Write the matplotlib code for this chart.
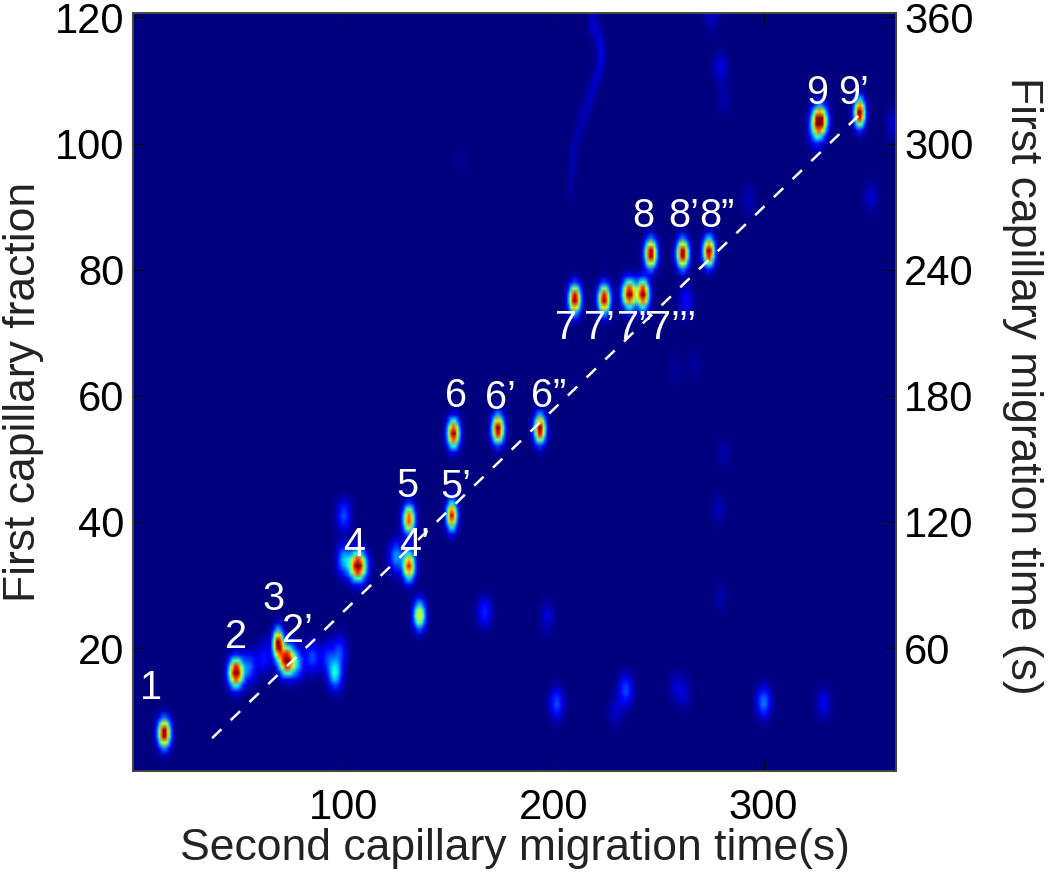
import numpy as np
import matplotlib
matplotlib.use('Agg')
import matplotlib.pyplot as plt

plt.rcParams['font.family'] = ['Liberation Sans', 'DejaVu Sans']

# peaks: migration time, fraction, height
main_x = [14.4, 48.6, 68.7, 72.9, 106.7, 131, 131, 151.4, 152.2, 173.4, 193.4,
          210, 224, 236, 242.5, 246.2, 261.4, 273.9, 326.7, 345.7, 136]
main_y = [6.5, 16.1, 20.7, 18, 33, 33, 40.4, 41, 54, 54.7, 54.7,
          75.3, 75.3, 76.1, 76.1, 82.5, 82.5, 82.8, 103.6, 104.8, 25.2]
main_h = [1.05, 1.1, 1.05, 1.1, 1.1, 0.9, 0.88, 0.95, 1.05, 1.05, 1.05,
          1.05, 1.02, 1.05, 1.05, 1.05, 1.05, 1.05, 1.12, 1.08, 0.66]
main_w = [2.0, 2.3, 1.7, 2.5, 2.6, 1.9, 1.9, 1.7, 1.9, 1.9, 1.8,
          1.9, 1.9, 2.2, 1.9, 1.9, 1.9, 1.8, 2.3, 1.7, 1.9]

minor_x = [95.8, 98, 100, 100, 125, 55, 62, 85, 92, 78, 201.4, 234.3, 229.5, 258, 262,
           300, 328.6, 167, 197, 279.5, 263, 281, 278.6, 267, 258, 275, 279.5,
           281, 351, 293, 362, 155.7, 325]
minor_y = [16, 19.6, 41, 34, 34.5, 17, 18.5, 18.5, 18.5, 17.5, 11.2, 13.3, 10, 14, 12.8,
           11.4, 11.2, 25.7, 25, 28, 75, 51, 42, 65, 64, 120, 112,
           107, 91.5, 91, 103, 97, 102]
minor_h = [0.38, 0.18, 0.2, 0.3, 0.28, 0.22, 0.15, 0.2, 0.16, 0.22, 0.2, 0.2, 0.07, 0.06, 0.07,
           0.25, 0.1, 0.16, 0.08, 0.04, 0.12, 0.04, 0.05, 0.03, 0.03, 0.06, 0.09,
           0.04, 0.07, 0.05, 0.08, 0.02, 0.25]

# faint ridge near the top
ridge_x = [218, 220, 222, 223, 222, 220, 218, 216, 214, 212, 210, 209, 209, 208, 208]
ridge_y = [119, 118, 116, 114, 112, 110, 108, 106, 104, 102, 100, 98, 96, 94, 92]
ridge_h = [0.055, 0.055, 0.06, 0.055, 0.055, 0.055, 0.05, 0.045, 0.04, 0.035, 0.03, 0.03, 0.025, 0.02, 0.015]

line_x = [37.6, 345.7]
line_y = [5.7, 104.6]

label_text = ['1', '2', '3', '2’', '4', '4’', '5', '5’', '6', '6’', '6”',
              '7', '7’', '7”', '7’’’', '8', '8’', '8”', '9', '9’']
label_x = [8.6, 49, 67, 78, 105, 134, 130.5, 153.4, 153.8, 175, 197.6,
           206, 222, 238.5, 256.7, 243, 261.9, 277.6, 325.7, 342.8]
label_y = [13.6, 21.7, 27.7, 22.7, 36.4, 36.3, 45.7, 45.5, 59.9, 59.7, 59.9,
           70.8, 70.8, 70.8, 70.8, 88.5, 88.5, 88.5, 108, 108]

left_ticks = [20, 40, 60, 80, 100, 120]
right_ticks = [60, 120, 180, 240, 300, 360]
bottom_ticks = [100, 200, 300]

tx = np.arange(0, 364)
fr = np.arange(1, 121)
gx, gy = np.meshgrid(tx, fr)
img = np.zeros(gx.shape)


def add_spots(xs, ys, hs, sx, sy):
    global img
    for a, b, h, w in zip(xs, ys, hs, sx):
        img += h * np.exp(-(gx - a) ** 2 / (2 * w ** 2) - (gy - b) ** 2 / (2 * sy ** 2))


add_spots(main_x, main_y, main_h, main_w, 1.45)
add_spots(minor_x, minor_y, minor_h, [2.3] * len(minor_x), 1.6)
add_spots(ridge_x, ridge_y, ridge_h, [1.3] * len(ridge_x), 1.4)

fig = plt.figure(figsize=(10.5, 8.72), dpi=100)
ax = fig.add_axes([133 / 1050, 101 / 872, 763 / 1050, 758 / 872])
ax.imshow(img, cmap='jet', vmin=0, vmax=1, origin='lower', aspect='auto',
          extent=[0, 363, 0.5, 120.5], interpolation='bilinear')
ax.plot(line_x, line_y, color='white', lw=1.8, linestyle=(0, (5.2, 5.2)))

for t, a, b in zip(label_text, label_x, label_y):
    ax.text(a, b, t, color='white', fontsize=28.5, ha='center', va='center')

ax.set_xlim(0, 363)
ax.set_ylim(0.5, 120.7)
ax.set_xticks(bottom_ticks)
ax.set_yticks(left_ticks)
ax.tick_params(axis='y', direction='in', length=7, width=0.8, labelsize=30, pad=6)
ax.tick_params(axis='x', direction='in', length=7, width=0.8, top=True, labelsize=30, pad=12)
ax.set_xlabel('Second capillary migration time(s)', fontsize=32, labelpad=0, color='#222222')
ax.set_ylabel('First capillary fraction', fontsize=32, labelpad=8, color='#222222')

ax2 = ax.twinx()
ax2.set_ylim(1.5, 362.1)
ax2.set_yticks(right_ticks)
ax2.tick_params(direction='in', length=7, width=0.8, labelsize=30, pad=6)
ax2.set_ylabel('First capillary migration time (s)', fontsize=32, rotation=270,
               labelpad=50, color='#222222', y=0.508)

for a in (ax, ax2):
    for s in a.spines.values():
        s.set_color('#444444')
        s.set_linewidth(1.2)

fig.savefig('out.png', dpi=100)
